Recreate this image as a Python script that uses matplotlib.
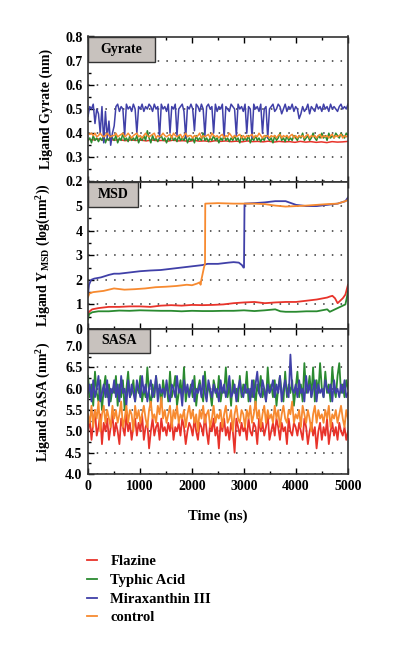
import numpy as np
import matplotlib
matplotlib.use('Agg')
import matplotlib.pyplot as plt
from matplotlib.patches import Rectangle
from matplotlib.ticker import MultipleLocator, FormatStrFormatter

plt.rcParams['font.family'] = ['Liberation Serif', 'DejaVu Serif']
plt.rcParams['font.weight'] = 'bold'
plt.rcParams['axes.labelweight'] = 'bold'
plt.rcParams['mathtext.fontset'] = 'custom'
plt.rcParams['mathtext.rm'] = 'Liberation Serif:bold'
plt.rcParams['mathtext.it'] = 'Liberation Serif:bold:italic'
plt.rcParams['mathtext.bf'] = 'Liberation Serif:bold'

names = ['Flazine', 'Typhic Acid', 'Miraxanthin III', 'control']
colors = ['#e8332a', '#2a8a30', '#4040a8', '#f78a30']

# ---- Gyrate (nm) ----
gyr_red = [0.375, 0.372, 0.376, 0.370, 0.374, 0.371, 0.373, 0.369, 0.372, 0.370,
           0.371, 0.368, 0.372, 0.369, 0.370, 0.367, 0.371, 0.368, 0.369, 0.366,
           0.370, 0.367, 0.368, 0.365, 0.369, 0.366, 0.368, 0.365, 0.367, 0.364,
           0.368, 0.365, 0.366, 0.364, 0.367, 0.363, 0.366, 0.364, 0.365, 0.362,
           0.366, 0.363, 0.365, 0.362, 0.364, 0.361, 0.365, 0.363, 0.364, 0.366]
gyr_green = [0.37, 0.38, 0.36, 0.39, 0.37, 0.38, 0.365, 0.38, 0.37, 0.39, 0.36, 0.38, 0.37, 0.39, 0.38,
             0.37, 0.39, 0.36, 0.38, 0.37, 0.40, 0.37, 0.38, 0.365, 0.39, 0.37, 0.38, 0.37, 0.39, 0.36,
             0.38, 0.37, 0.39, 0.37, 0.41, 0.38, 0.36, 0.39, 0.37, 0.38, 0.365, 0.38, 0.39, 0.37, 0.38,
             0.36, 0.38, 0.37, 0.39, 0.37, 0.38, 0.365, 0.39, 0.37, 0.38, 0.37, 0.39, 0.36, 0.38, 0.37,
             0.38, 0.36, 0.39, 0.37, 0.38, 0.37, 0.40, 0.37, 0.38, 0.365, 0.38, 0.37, 0.39, 0.37, 0.38,
             0.36, 0.38, 0.37, 0.39, 0.37, 0.38, 0.365, 0.38, 0.37, 0.39, 0.37, 0.38, 0.36, 0.39, 0.37,
             0.38, 0.37, 0.39, 0.36, 0.38, 0.37, 0.39, 0.37, 0.38, 0.365, 0.38, 0.37, 0.39, 0.38, 0.37,
             0.38, 0.36, 0.39, 0.37, 0.38, 0.40, 0.37, 0.38, 0.365, 0.39, 0.37, 0.38, 0.37, 0.39, 0.38,
             0.37, 0.39, 0.38, 0.40, 0.37, 0.38, 0.39, 0.37, 0.38, 0.40, 0.38, 0.37, 0.39, 0.38, 0.40,
             0.38, 0.39, 0.37, 0.40, 0.38, 0.39, 0.38, 0.40, 0.39, 0.38, 0.40, 0.39, 0.38, 0.40, 0.39]
gyr_blue = [0.47, 0.51, 0.50, 0.52, 0.44, 0.50, 0.48, 0.40, 0.51, 0.36, 0.49, 0.38, 0.45, 0.35, 0.40,
            0.43, 0.51, 0.52, 0.49, 0.51, 0.50, 0.39, 0.52, 0.50, 0.51, 0.49, 0.52, 0.50, 0.40, 0.51,
            0.50, 0.52, 0.49, 0.51, 0.50, 0.52, 0.51, 0.49, 0.52, 0.50, 0.51, 0.38, 0.52, 0.50, 0.51,
            0.49, 0.52, 0.40, 0.51, 0.50, 0.52, 0.39, 0.50, 0.51, 0.52, 0.49, 0.38, 0.51, 0.50, 0.52,
            0.50, 0.41, 0.52, 0.51, 0.49, 0.52, 0.50, 0.39, 0.51, 0.52, 0.50, 0.51, 0.40, 0.52, 0.49,
            0.51, 0.50, 0.52, 0.38, 0.51, 0.50, 0.49, 0.52, 0.51, 0.50, 0.39, 0.52, 0.50, 0.51, 0.49,
            0.52, 0.40, 0.51, 0.50, 0.38, 0.52, 0.50, 0.51, 0.49, 0.52, 0.40, 0.50, 0.51, 0.38, 0.50,
            0.51, 0.52, 0.49, 0.50, 0.52, 0.51, 0.48, 0.50, 0.52, 0.49, 0.51, 0.50, 0.52, 0.49, 0.51,
            0.50, 0.46, 0.48, 0.51, 0.49, 0.50, 0.52, 0.48, 0.51, 0.50, 0.49, 0.52, 0.50, 0.51, 0.49,
            0.52, 0.50, 0.51, 0.49, 0.52, 0.50, 0.51, 0.50, 0.49, 0.51, 0.52, 0.50, 0.51, 0.50, 0.52]
gyr_orange = [0.40, 0.395, 0.40, 0.39, 0.40, 0.385, 0.39, 0.40, 0.39, 0.385, 0.39, 0.40, 0.39, 0.385, 0.39,
              0.39, 0.40, 0.385, 0.39, 0.395, 0.40, 0.385, 0.39, 0.40, 0.39, 0.38, 0.39, 0.395, 0.40, 0.385,
              0.39, 0.38, 0.39, 0.40, 0.39, 0.385, 0.39, 0.395, 0.40, 0.38, 0.39, 0.385, 0.39, 0.40, 0.39,
              0.385, 0.39, 0.395, 0.38, 0.40, 0.39, 0.385, 0.39, 0.395, 0.38, 0.39, 0.40, 0.385, 0.39, 0.39,
              0.38, 0.39, 0.385, 0.39, 0.40, 0.38, 0.39, 0.385, 0.39, 0.395, 0.38, 0.40, 0.39, 0.385, 0.39,
              0.38, 0.39, 0.395, 0.38, 0.39, 0.385, 0.40, 0.39, 0.38, 0.39, 0.385, 0.39, 0.395, 0.38, 0.39,
              0.38, 0.39, 0.385, 0.39, 0.395, 0.38, 0.39, 0.385, 0.40, 0.39, 0.38, 0.39, 0.385, 0.39, 0.38,
              0.39, 0.385, 0.39, 0.38, 0.39, 0.395, 0.38, 0.39, 0.385, 0.39, 0.38, 0.39, 0.395, 0.38, 0.39,
              0.38, 0.39, 0.385, 0.39, 0.38, 0.39, 0.395, 0.38, 0.39, 0.385, 0.39, 0.38, 0.39, 0.395, 0.38,
              0.39, 0.385, 0.39, 0.38, 0.39, 0.395, 0.38, 0.39, 0.385, 0.39, 0.395, 0.38, 0.39, 0.385, 0.39]

# ---- MSD (log(nm^2)) ----
msd_red_t = [0, 20, 80, 200, 400, 600, 800, 1000, 1200, 1400, 1600, 1800, 2000, 2200, 2400, 2600, 2800,
             3000, 3200, 3400, 3600, 3800, 4000, 4200, 4400, 4600, 4650, 4700, 4750, 4800, 4850, 4900, 4950, 5000]
msd_red = [0.5, 0.7, 0.8, 0.85, 0.9, 0.9, 0.92, 0.92, 0.9, 0.95, 0.97, 0.95, 0.98, 0.97, 0.98, 1.0, 1.05,
           1.08, 1.1, 1.05, 1.08, 1.1, 1.1, 1.15, 1.2, 1.28, 1.32, 1.35, 1.25, 1.05, 1.15, 1.25, 1.4, 1.8]
msd_green_t = [0, 20, 80, 200, 400, 600, 800, 1000, 1200, 1400, 1600, 1800, 2000, 2200, 2400, 2600, 2800,
               3000, 3200, 3400, 3600, 3700, 3800, 4000, 4200, 4400, 4600, 4650, 4700, 4800, 4850, 4900,
               4950, 4980, 5000]
msd_green = [0.4, 0.6, 0.68, 0.72, 0.72, 0.75, 0.74, 0.76, 0.75, 0.74, 0.74, 0.72, 0.74, 0.73, 0.73, 0.74,
             0.74, 0.76, 0.73, 0.76, 0.8, 0.72, 0.7, 0.7, 0.72, 0.72, 0.8, 0.7, 0.75, 0.85, 0.9, 0.95,
             1.0, 1.3, 1.55]
msd_blue_t = [0, 20, 60, 120, 250, 400, 500, 600, 800, 1000, 1200, 1400, 1600, 1800, 2000, 2200, 2300,
              2500, 2700, 2800, 2900, 2960, 2990, 3000, 3010, 3200, 3400, 3600, 3800, 4000, 4200, 4400,
              4600, 4800, 4950, 5000]
msd_blue = [1.4, 1.8, 2.0, 2.05, 2.1, 2.2, 2.25, 2.25, 2.3, 2.35, 2.38, 2.4, 2.45, 2.5, 2.55, 2.6, 2.65,
            2.65, 2.7, 2.72, 2.7, 2.6, 2.5, 2.5, 5.1, 5.12, 5.15, 5.2, 5.2, 5.05, 5.0, 5.0,
            5.05, 5.1, 5.2, 5.35]
msd_orange_t = [0, 30, 100, 300, 500, 700, 900, 1100, 1300, 1500, 1700, 1900, 2000, 2100, 2150, 2165,
                2180, 2210, 2230, 2250, 2255, 2500, 2800, 3000, 3200, 3400, 3600, 3800, 4000, 4200, 4400,
                4600, 4800, 4950, 5000]
msd_orange = [1.3, 1.45, 1.5, 1.55, 1.65, 1.6, 1.62, 1.65, 1.7, 1.72, 1.75, 1.8, 1.78, 1.85, 1.9, 1.8,
              2.0, 2.3, 2.5, 2.65, 5.1, 5.12, 5.1, 5.1, 5.1, 5.08, 5.02, 4.98, 5.0, 5.02, 5.05,
              5.08, 5.1, 5.2, 5.25]

# ---- SASA (nm^2) ----
sasa_red = [5.0, 5.3, 4.8, 5.2, 5.5, 4.9, 5.1, 5.4, 4.7, 5.2, 5.0, 5.3, 4.8, 5.1, 5.4,
            4.9, 5.2, 5.0, 4.7, 5.3, 5.1, 4.9, 5.4, 5.0, 5.2, 4.8, 5.1, 5.3, 4.9, 5.2,
            5.0, 5.4, 4.8, 5.1, 5.2, 4.6, 5.0, 5.3, 4.9, 5.1, 5.2, 4.8, 5.3, 5.0, 5.1,
            4.9, 5.2, 5.0, 5.3, 4.8, 5.1, 5.0, 5.2, 4.9, 5.3, 5.1, 4.7, 5.0, 5.2, 5.1,
            4.9, 5.3, 5.0, 4.8, 5.2, 5.1, 4.9, 5.4, 5.0, 4.7, 5.2, 5.0, 5.3, 4.9, 5.1,
            4.6, 5.2, 5.0, 5.3, 4.9, 5.1, 4.8, 5.2, 5.0, 4.5, 5.3, 5.1, 4.9, 5.2, 5.0,
            5.1, 4.8, 5.3, 5.0, 4.9, 5.2, 5.1, 4.7, 5.3, 5.0, 5.2, 4.9, 5.1, 5.4, 4.8,
            5.0, 5.2, 4.9, 5.3, 5.1, 4.8, 5.2, 5.0, 5.1, 4.7, 5.3, 5.0, 4.9, 5.2, 5.1,
            4.9, 5.2, 5.0, 4.8, 5.3, 5.1, 4.7, 5.0, 5.2, 4.9, 5.1, 4.6, 5.0, 5.2, 4.8,
            5.1, 4.9, 5.3, 4.7, 5.0, 5.2, 4.9, 5.1, 4.8, 5.2, 5.0, 4.9, 5.1, 4.8, 5.0]
sasa_green = [6.3, 5.8, 6.1, 5.6, 6.4, 5.9, 5.7, 6.2, 5.5, 6.0, 6.3, 5.8, 6.1, 5.7, 6.0,
              5.9, 6.3, 5.6, 6.1, 5.8, 6.2, 5.5, 6.0, 6.4, 5.8, 5.9, 6.2, 5.7, 6.1, 5.9,
              6.3, 5.7, 6.0, 5.8, 6.5, 5.9, 5.6, 6.1, 5.8, 6.3, 5.9, 6.0, 5.6, 6.2, 5.9,
              6.1, 5.7, 6.4, 5.8, 6.0, 6.3, 5.6, 5.9, 6.2, 5.8, 6.5, 5.7, 6.0, 5.9, 6.1,
              5.8, 6.3, 5.6, 6.0, 6.2, 5.9, 5.7, 6.4, 5.8, 6.1, 5.9, 5.6, 6.2, 6.0, 5.8,
              6.3, 5.7, 6.0, 5.9, 6.5, 5.8, 6.1, 5.6, 6.2, 5.9, 6.0, 5.7, 6.3, 5.8, 6.1,
              5.9, 6.4, 5.7, 6.0, 5.8, 6.2, 5.6, 6.1, 5.9, 6.3, 5.8, 6.0, 5.7, 6.5, 5.9,
              6.1, 5.8, 6.2, 5.6, 6.0, 6.3, 5.9, 5.7, 6.4, 5.8, 6.1, 5.9, 6.2, 5.6, 6.0,
              6.4, 5.8, 6.1, 5.7, 6.6, 5.9, 6.0, 6.3, 5.8, 6.5, 5.7, 6.2, 5.9, 6.6, 6.0,
              5.8, 6.4, 5.9, 6.1, 5.7, 6.5, 6.0, 5.8, 6.3, 6.6, 5.9, 6.1, 5.8, 6.2, 6.0]
sasa_blue = [5.9, 6.1, 5.7, 6.2, 5.8, 6.0, 6.3, 5.7, 5.9, 6.1, 5.8, 6.2, 5.6, 6.0, 5.9,
             6.2, 5.8, 6.1, 5.7, 6.3, 5.9, 6.0, 5.6, 6.2, 5.8, 6.1, 5.9, 5.7, 6.2, 6.0,
             5.8, 6.3, 5.9, 6.1, 5.7, 6.0, 6.2, 5.8, 5.9, 6.3, 5.7, 6.1, 5.9, 6.0, 5.8,
             6.2, 5.9, 5.7, 6.1, 6.0, 5.8, 6.3, 5.9, 6.0, 5.6, 6.2, 5.9, 6.1, 5.8, 6.0,
             6.2, 5.7, 6.0, 5.9, 6.1, 5.8, 6.3, 5.9, 5.7, 6.2, 6.0, 5.8, 6.1, 5.9, 6.0,
             5.7, 6.2, 5.9, 6.1, 5.8, 6.0, 6.3, 5.8, 5.9, 6.1, 5.7, 6.0, 6.2, 5.9, 5.8,
             6.1, 5.9, 6.0, 5.7, 6.2, 5.8, 6.1, 6.4, 5.9, 5.8, 6.2, 6.0, 5.7, 6.1, 5.9,
             6.0, 6.2, 5.8, 6.1, 5.9, 6.3, 5.7, 6.0, 6.2, 5.9, 5.8, 6.8, 6.0, 5.9, 6.1,
             5.8, 6.2, 5.9, 6.0, 5.7, 6.3, 5.9, 6.1, 5.8, 6.0, 6.2, 5.7, 6.1, 5.9, 6.0,
             5.8, 6.2, 6.0, 5.9, 6.1, 5.7, 6.2, 5.9, 6.0, 5.8, 6.1, 5.9, 6.2, 5.8, 5.9]
sasa_orange = [5.4, 5.2, 5.6, 5.1, 5.5, 5.3, 5.7, 5.0, 5.4, 5.6, 5.2, 5.5, 5.3, 5.1, 5.6,
               5.3, 5.5, 5.2, 5.4, 5.7, 5.1, 5.3, 5.6, 5.2, 5.5, 5.4, 5.0, 5.6, 5.3, 5.5,
               5.2, 5.4, 5.6, 5.3, 5.1, 5.5, 5.7, 5.3, 5.4, 5.2, 5.6, 5.4, 5.8, 5.3, 5.5,
               5.2, 5.4, 5.6, 5.1, 5.5, 5.3, 5.6, 5.2, 5.4, 5.3, 5.5, 5.1, 5.4, 5.6, 5.3,
               5.5, 5.2, 5.4, 5.0, 5.5, 5.3, 5.6, 5.2, 5.4, 5.5, 5.1, 5.3, 5.6, 5.2, 5.4,
               5.3, 5.5, 5.1, 5.4, 5.6, 5.2, 5.3, 5.5, 5.0, 5.4, 5.6, 5.3, 5.2, 5.5, 5.4,
               5.1, 5.5, 5.3, 5.6, 5.2, 5.4, 5.7, 5.3, 5.5, 5.1, 5.4, 5.6, 5.2, 5.5, 5.3,
               5.4, 5.2, 5.6, 5.3, 5.5, 5.1, 5.4, 5.6, 5.3, 5.2, 5.5, 5.4, 5.7, 5.2, 5.4,
               5.3, 5.5, 5.1, 5.6, 5.4, 5.2, 5.5, 5.3, 5.0, 5.4, 5.6, 5.2, 5.5, 5.3, 5.4,
               5.2, 5.5, 5.3, 5.6, 5.1, 5.4, 5.3, 5.5, 5.2, 5.4, 5.6, 5.3, 5.1, 5.5, 5.3]


def frames(series):
    # samples are evenly spaced over the 5000 ns run
    return np.linspace(0, 5000, len(series))


fig = plt.figure(figsize=(3.94, 6.6), dpi=100)
left, width = 88 / 394, 260 / 394
ax_g = fig.add_axes([left, 1 - 181.5 / 660, width, 145 / 660])
ax_m = fig.add_axes([left, 1 - 329 / 660, width, 147.5 / 660])
ax_s = fig.add_axes([left, 1 - 474 / 660, width, 145 / 660])

for s, c in zip([gyr_red, gyr_green, gyr_blue, gyr_orange], colors):
    ax_g.plot(frames(s), s, color=c, lw=1.1)
for t, s, c in zip([msd_red_t, msd_green_t, msd_blue_t, msd_orange_t],
                   [msd_red, msd_green, msd_blue, msd_orange], colors):
    ax_m.plot(t, s, color=c, lw=1.3)
for s, c in zip([sasa_red, sasa_green, sasa_blue, sasa_orange], colors):
    ax_s.plot(frames(s), s, color=c, lw=1.3)

ax_g.set_ylim(0.2, 0.8)
ax_g.yaxis.set_major_locator(MultipleLocator(0.1))
ax_g.yaxis.set_minor_locator(MultipleLocator(0.05))
ax_g.yaxis.set_major_formatter(FormatStrFormatter('%.1f'))
ax_g.set_ylabel('Ligand Gyrate (nm)')

ax_m.set_ylim(0, 6)
ax_m.set_yticks([0, 1, 2, 3, 4, 5])
ax_m.yaxis.set_minor_locator(MultipleLocator(0.5))
ax_m.set_ylabel(r'Ligand Y$_{\rm MSD}$ (log(nm$^{\rm 2}$))')

ax_s.set_ylim(4.0, 7.4)
ax_s.set_yticks([4.0, 4.5, 5.0, 5.5, 6.0, 6.5, 7.0])
ax_s.yaxis.set_minor_locator(MultipleLocator(0.25))
ax_s.yaxis.set_major_formatter(FormatStrFormatter('%.1f'))
ax_s.set_ylabel(r'Ligand SASA (nm$^{\rm 2}$)')
ax_s.set_xlabel('Time (ns)', labelpad=12, fontsize=10.5)

boxes = [(ax_g, 'Gyrate', 67 / 260, 25 / 145),
         (ax_m, 'MSD', 50 / 260, 25 / 147.5),
         (ax_s, 'SASA', 62 / 260, 24 / 145)]
for ax, label, bw, bh in boxes:
    ax.set_xlim(0, 5000)
    ax.xaxis.set_major_locator(MultipleLocator(1000))
    ax.xaxis.set_minor_locator(MultipleLocator(500))
    ax.tick_params(which='both', direction='in', top=True, right=False, labelsize=10,
                   width=1.0, pad=4)
    ax.tick_params(which='major', length=4)
    ax.tick_params(which='minor', length=2.5)
    for sp in ax.spines.values():
        sp.set_linewidth(1.2)
        sp.set_color('#333333')
    ax.yaxis.grid(True, linestyle=(0, (1, 4.7)), linewidth=1.1, color='#333333')
    ax.set_axisbelow(True)
    ax.yaxis.label.set_size(10)
    ax.yaxis.set_label_coords(-0.135, 0.5)
    ax.add_patch(Rectangle((0, 1 - bh), bw, bh, transform=ax.transAxes,
                           facecolor='#c8c2be', edgecolor='#333333', lw=1.0, zorder=5))
    ax.text(bw / 2, 1 - bh / 2, label, transform=ax.transAxes, ha='center', va='center',
            fontsize=10, fontweight='bold', zorder=6)
    if ax is not ax_s:
        ax.tick_params(labelbottom=False)

handles = ax_s.get_lines()
fig.legend(handles, names, loc='upper left', bbox_to_anchor=(87 / 394, 1 - 555 / 660),
           frameon=False, fontsize=10.5, handlelength=0.7, handletextpad=0.9,
           labelspacing=0.38, borderpad=0, borderaxespad=0)

fig.savefig('out.png', dpi=100)
